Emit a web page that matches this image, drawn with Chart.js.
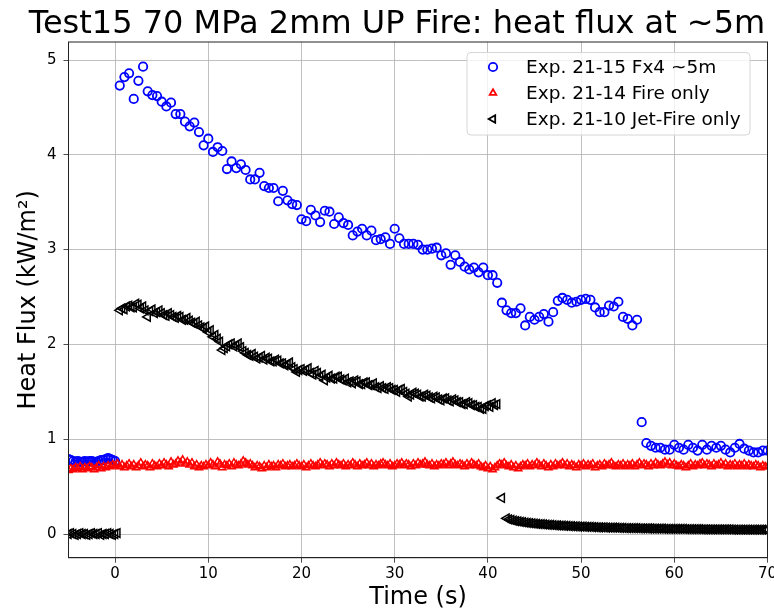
<!DOCTYPE html>
<html>
<head>
<meta charset="utf-8">
<script src="https://cdn.jsdelivr.net/npm/chart.js@4/dist/chart.umd.min.js"></script>
<style>
  html, body { margin: 0; padding: 0; background: #fff; }
</style>
</head>
<body>
<canvas id="chart" width="774" height="612"></canvas>
<script>
const chartTitle = 'Test15 70 MPa 2mm UP Fire: heat flux at ~5m';
const xTicks = [0, 10, 20, 30, 40, 50, 60, 70];
const yTicks = [0, 1, 2, 3, 4, 5];

const seriesNames = ['Exp. 21-15 Fx4 ~5m', 'Exp. 21-14 Fire only', 'Exp. 21-10 Jet-Fire only'];

// Exp. 21-15, segments with their start time and logging step
const fx4PreStart = -5;
const fx4PreStep = 0.25;
const fx4Pre = [
  0.79, 0.78, 0.77, 0.76, 0.77, 0.76, 0.76, 0.77, 0.76, 0.77, 0.77,
  0.76, 0.76, 0.77, 0.78, 0.78, 0.79, 0.80, 0.79, 0.78, 0.77
];
const fx4Step = 0.5;
const fx4FireStart = 0.5;
const fx4Fire = [
  4.73, 4.82, 4.86, 4.59, 4.78, 4.93, 4.67, 4.63, 4.62, 4.56,
  4.51, 4.55, 4.43, 4.43, 4.35, 4.30, 4.34, 4.24, 4.10, 4.17,
  4.03, 4.08, 4.04, 3.85, 3.93, 3.86, 3.90, 3.84, 3.74, 3.74,
  3.81, 3.67, 3.65, 3.65, 3.51, 3.62, 3.52, 3.48, 3.47, 3.32,
  3.30, 3.42, 3.36, 3.29, 3.41, 3.40, 3.27, 3.34, 3.28, 3.26,
  3.15, 3.19, 3.22, 3.15, 3.20, 3.10, 3.11, 3.13, 3.06, 3.22,
  3.12, 3.06, 3.06, 3.06, 3.05, 3.00, 3.00, 3.01, 3.02, 2.94,
  2.96, 2.84, 2.94, 2.87, 2.82, 2.79, 2.81, 2.76, 2.81, 2.73,
  2.73, 2.65, 2.44, 2.36, 2.33, 2.33, 2.38, 2.20, 2.29, 2.26,
  2.29, 2.32, 2.24, 2.34, 2.46, 2.49, 2.47, 2.44, 2.45, 2.47,
  2.48, 2.47, 2.39, 2.34, 2.34, 2.41, 2.40, 2.45, 2.29, 2.27,
  2.20, 2.26
];
const fx4AfterStart = 56.5;
const fx4After = [
  1.18, 0.96, 0.93, 0.91, 0.91, 0.89, 0.89, 0.94, 0.91, 0.89,
  0.94, 0.91, 0.88, 0.94, 0.89, 0.93, 0.91, 0.93, 0.89, 0.86,
  0.91, 0.95, 0.90, 0.88, 0.86, 0.86, 0.88, 0.88
];

// Exp. 21-14 fire only (logged every 0.25 s)
const fireStep = 0.25;
const fireOnlyStart = -5;
const fireOnly = [
  0.67, 0.69, 0.68, 0.70, 0.69, 0.71, 0.68, 0.70, 0.69, 0.71, 0.70, 0.68, 0.70, 0.72, 0.69, 0.71, 0.70, 0.72, 0.71, 0.73,
  0.72, 0.74, 0.71, 0.73, 0.70, 0.72, 0.74, 0.71, 0.73, 0.70, 0.72, 0.75, 0.71, 0.73, 0.72, 0.70, 0.74, 0.72, 0.71, 0.74,
  0.72, 0.75, 0.73, 0.71, 0.76, 0.73, 0.74, 0.77, 0.75, 0.78, 0.74, 0.76, 0.73, 0.75, 0.71, 0.73, 0.70, 0.72, 0.71, 0.73,
  0.72, 0.75, 0.73, 0.71, 0.76, 0.74, 0.70, 0.73, 0.72, 0.74, 0.71, 0.75, 0.73, 0.72, 0.74, 0.77, 0.75, 0.73, 0.74, 0.72,
  0.70, 0.72, 0.71, 0.69, 0.72, 0.70, 0.73, 0.71, 0.72, 0.70, 0.73, 0.72, 0.74, 0.71, 0.72, 0.73, 0.71, 0.72, 0.74, 0.72,
  0.71, 0.73, 0.70, 0.72, 0.74, 0.72, 0.71, 0.73, 0.75, 0.72, 0.74, 0.73, 0.71, 0.74, 0.72, 0.75, 0.73, 0.72, 0.74, 0.71,
  0.73, 0.72, 0.75, 0.73, 0.71, 0.74, 0.72, 0.73, 0.75, 0.72, 0.74, 0.71, 0.73, 0.72, 0.74, 0.75, 0.73, 0.72, 0.74, 0.71,
  0.72, 0.74, 0.73, 0.75, 0.72, 0.74, 0.73, 0.71, 0.74, 0.72, 0.75, 0.73, 0.74, 0.76, 0.73, 0.72, 0.74, 0.71, 0.73, 0.72,
  0.74, 0.73, 0.75, 0.72, 0.74, 0.76, 0.73, 0.72, 0.74, 0.73, 0.71, 0.74, 0.72, 0.75, 0.73, 0.72, 0.74, 0.71, 0.70, 0.72,
  0.69, 0.71, 0.68, 0.70, 0.72, 0.74, 0.73, 0.75, 0.72, 0.71, 0.73, 0.70, 0.72, 0.69, 0.71, 0.73, 0.72, 0.74, 0.71, 0.73,
  0.72, 0.75, 0.73, 0.71, 0.74, 0.72, 0.70, 0.73, 0.71, 0.74, 0.72, 0.73, 0.75, 0.72, 0.74, 0.71, 0.73, 0.72, 0.70, 0.73,
  0.72, 0.74, 0.71, 0.73, 0.72, 0.74, 0.70, 0.72, 0.73, 0.71, 0.74, 0.72, 0.73, 0.75, 0.72, 0.71, 0.73, 0.72, 0.74, 0.71,
  0.73, 0.72, 0.74, 0.71, 0.73, 0.75, 0.72, 0.74, 0.73, 0.71, 0.74, 0.72, 0.75, 0.73, 0.72, 0.74, 0.76, 0.73, 0.75, 0.72,
  0.74, 0.72, 0.71, 0.73, 0.72, 0.70, 0.72, 0.74, 0.71, 0.73, 0.72, 0.74, 0.75, 0.72, 0.74, 0.73, 0.71, 0.74, 0.72, 0.73,
  0.75, 0.72, 0.74, 0.71, 0.73, 0.72, 0.74, 0.71, 0.73, 0.72, 0.74, 0.71, 0.73, 0.72, 0.71, 0.73, 0.72, 0.70, 0.72, 0.71,
  0.71
];

// Exp. 21-10 jet fire only (logged every 0.25 s)
const jetStep = 0.25;
const jetPreStart = -5;
const jetPre = [
  0.00, 0.01, 0.00, -0.01, 0.00, 0.01, 0.00, 0.00, -0.01, 0.00, 0.01,
  0.00, 0.00, 0.01, -0.01, 0.00, 0.00, 0.01, 0.00, -0.01, 0.00, 0.01
];
const jetFireStart = 0.5;
const jetFire = [
  2.36, 2.38, 2.37, 2.40, 2.41, 2.39, 2.39, 2.43, 2.42, 2.38, 2.40, 2.36, 2.29, 2.35, 2.37, 2.33, 2.34, 2.36, 2.33, 2.31,
  2.30, 2.33, 2.31, 2.29, 2.28, 2.30, 2.29, 2.26, 2.26, 2.28, 2.25, 2.23, 2.22, 2.24, 2.20, 2.18, 2.17, 2.19, 2.13, 2.15,
  2.08, 2.10, 2.06, 2.03, 1.94, 1.96, 1.98, 2.00, 2.01, 1.98, 1.99, 2.01, 1.97, 1.93, 1.91, 1.89, 1.88, 1.90, 1.87, 1.85,
  1.86, 1.88, 1.84, 1.86, 1.85, 1.82, 1.82, 1.84, 1.83, 1.80, 1.80, 1.78, 1.79, 1.81, 1.76, 1.74, 1.71, 1.73, 1.74, 1.72,
  1.73, 1.75, 1.70, 1.68, 1.72, 1.70, 1.66, 1.68, 1.62, 1.65, 1.67, 1.64, 1.64, 1.66, 1.66, 1.63, 1.62, 1.64, 1.60, 1.61,
  1.59, 1.62, 1.61, 1.58, 1.58, 1.60, 1.60, 1.57, 1.57, 1.59, 1.55, 1.54, 1.56, 1.54, 1.53, 1.55, 1.54, 1.52, 1.52, 1.50,
  1.52, 1.53, 1.50, 1.48, 1.45, 1.47, 1.49, 1.48, 1.47, 1.45, 1.45, 1.47, 1.46, 1.44, 1.43, 1.45, 1.44, 1.42, 1.41, 1.43,
  1.43, 1.41, 1.40, 1.42, 1.41, 1.39, 1.39, 1.37, 1.37, 1.39, 1.38, 1.36, 1.36, 1.34, 1.34, 1.32, 1.32, 1.35, 1.36, 1.34,
  1.38, 1.36, 1.37
];
const jetSpikeStart = 41.5;
const jetSpike = [0.38];
const jetAfterStart = 42.0;
const jetAfter = [
  0.165, 0.155, 0.148, 0.142, 0.137, 0.132, 0.128, 0.124, 0.121, 0.118, 0.115, 0.112, 0.110, 0.107, 0.105, 0.103, 0.101, 0.099, 0.097, 0.095,
  0.094, 0.092, 0.090, 0.089, 0.088, 0.086, 0.085, 0.084, 0.082, 0.081, 0.080, 0.079, 0.078, 0.077, 0.076, 0.075, 0.074, 0.073, 0.072, 0.071,
  0.071, 0.070, 0.069, 0.068, 0.068, 0.067, 0.066, 0.066, 0.065, 0.064, 0.064, 0.063, 0.063, 0.062, 0.062, 0.061, 0.061, 0.060, 0.060, 0.059,
  0.059, 0.058, 0.058, 0.057, 0.057, 0.057, 0.056, 0.056, 0.055, 0.055, 0.055, 0.054, 0.054, 0.054, 0.053, 0.053, 0.053, 0.052, 0.052, 0.052,
  0.051, 0.051, 0.051, 0.051, 0.050, 0.050, 0.050, 0.050, 0.049, 0.049, 0.049, 0.049, 0.048, 0.048, 0.048, 0.048, 0.048, 0.047, 0.047, 0.047,
  0.047, 0.047, 0.046, 0.046, 0.046, 0.046, 0.046, 0.045, 0.045, 0.045, 0.045, 0.045, 0.045
];

// turn a segment into {x, y} points on the logger time base
const toPoints = (start, step, values) => values.map((v, i) => ({ x: start + i * step, y: v }));

const fx4Data = [
  ...toPoints(fx4PreStart, fx4PreStep, fx4Pre),
  ...toPoints(fx4FireStart, fx4Step, fx4Fire),
  ...toPoints(fx4AfterStart, fx4Step, fx4After)
];
const fireData = toPoints(fireOnlyStart, fireStep, fireOnly);
const jetData = [
  ...toPoints(jetPreStart, jetStep, jetPre),
  ...toPoints(jetFireStart, jetStep, jetFire),
  ...toPoints(jetSpikeStart, jetStep, jetSpike),
  ...toPoints(jetAfterStart, jetStep, jetAfter)
];

const FONT = '"DejaVu Sans", sans-serif';

// small marker painter for the legend box
function drawMarker(ctx, kind, x, y, r, color) {
  ctx.beginPath();
  ctx.strokeStyle = color;
  ctx.lineWidth = 1.8;
  if (kind === 'circle') {
    ctx.arc(x, y, r, 0, Math.PI * 2);
  } else {
    const rot = kind === 'left' ? -Math.PI / 2 : 0;
    for (let k = 0; k < 3; k++) {
      const a = rot + k * 2 * Math.PI / 3;
      const px = x + Math.sin(a) * r, py = y - Math.cos(a) * r;
      if (k === 0) ctx.moveTo(px, py); else ctx.lineTo(px, py);
    }
    ctx.closePath();
  }
  ctx.stroke();
}

const decorations = {
  id: 'decorations',
  afterDraw(chart) {
    const { ctx, chartArea: a } = chart;
    ctx.save();
    // full frame round the axes
    ctx.strokeStyle = '#222';
    ctx.lineWidth = 1;
    ctx.strokeRect(a.left, a.top, a.right - a.left, a.bottom - a.top);

    // title
    ctx.fillStyle = '#000';
    ctx.font = '32px ' + FONT;
    ctx.textAlign = 'center';
    ctx.textBaseline = 'alphabetic';
    ctx.fillText(chartTitle, 397, 33);

    // legend box, upper right
    const bx = 467, by = 52.5, bw = 283, bh = 82.5;
    ctx.beginPath();
    ctx.roundRect(bx, by, bw, bh, 4);
    ctx.fillStyle = 'rgba(255,255,255,0.8)';
    ctx.fill();
    ctx.strokeStyle = '#d6d6d6';
    ctx.lineWidth = 1;
    ctx.stroke();

    const rows = [67, 93, 119];
    const kinds = [['circle', '#0000ff', 4.2], ['up', '#ff0000', 3.8], ['left', '#000000', 4.4]];
    ctx.font = '18.5px ' + FONT;
    ctx.textAlign = 'left';
    ctx.textBaseline = 'middle';
    rows.forEach((ry, i) => {
      drawMarker(ctx, kinds[i][0], 493, ry, kinds[i][2], kinds[i][1]);
      ctx.fillStyle = '#000';
      ctx.fillText(seriesNames[i], 526, ry + 1);
    });
    ctx.restore();
  }
};

const gridStyle = {
  color: '#b0b0b0',
  lineWidth: 0.8,
  tickColor: '#222',
  tickLength: 5,
  drawTicks: true
};

const ctx = document.getElementById('chart').getContext('2d');
new Chart(ctx, {
  type: 'scatter',
  data: {
    datasets: [
      {
        label: seriesNames[0],
        data: fx4Data,
        pointStyle: 'circle',
        pointRadius: 4.2,
        borderColor: '#0000ff',
        backgroundColor: 'rgba(0,0,0,0)',
        pointBorderWidth: 1.8,
        order: 3
      },
      {
        label: seriesNames[1],
        data: fireData,
        pointStyle: 'triangle',
        pointRadius: 4.2,
        borderColor: '#ff0000',
        backgroundColor: 'rgba(0,0,0,0)',
        pointBorderWidth: 1.5,
        order: 2
      },
      {
        label: seriesNames[2],
        data: jetData,
        pointStyle: 'triangle',
        pointRotation: -90,
        pointRadius: 5,
        borderColor: '#000000',
        backgroundColor: 'rgba(0,0,0,0)',
        pointBorderWidth: 1.5,
        order: 1
      }
    ]
  },
  options: {
    responsive: false,
    animation: false,
    events: [],
    layout: { padding: { top: 42, right: 5.5, bottom: 0, left: 0 } },
    plugins: {
      legend: { display: false },
      title: { display: false },
      tooltip: { enabled: false }
    },
    scales: {
      x: {
        type: 'linear',
        min: -5,
        max: 70,
        afterBuildTicks: s => { s.ticks = xTicks.map(v => ({ value: v })); },
        afterFit: s => { s.height = 54.3; s.paddingLeft = 0; s.paddingRight = 0; },
        grid: gridStyle,
        border: { color: '#222', width: 1 },
        ticks: { color: '#000', font: { family: FONT, size: 15 }, padding: 2, maxRotation: 0 },
        title: { display: true, text: 'Time (s)', color: '#000', font: { family: FONT, size: 24 }, padding: { top: 0, bottom: 0 } }
      },
      y: {
        type: 'linear',
        min: -0.25,
        max: 5.19,
        afterBuildTicks: s => { s.ticks = yTicks.map(v => ({ value: v })); },
        afterFit: s => { s.width = 68.5; s.paddingTop = 0; s.paddingBottom = 0; },
        grid: gridStyle,
        border: { color: '#222', width: 1 },
        ticks: { color: '#000', font: { family: FONT, size: 15 }, padding: 7 },
        title: { display: true, text: 'Heat Flux (kW/m²)', color: '#000', font: { family: FONT, size: 24 }, padding: { top: 14, bottom: 0 } }
      }
    }
  },
  plugins: [decorations]
});
</script>
</body>
</html>
